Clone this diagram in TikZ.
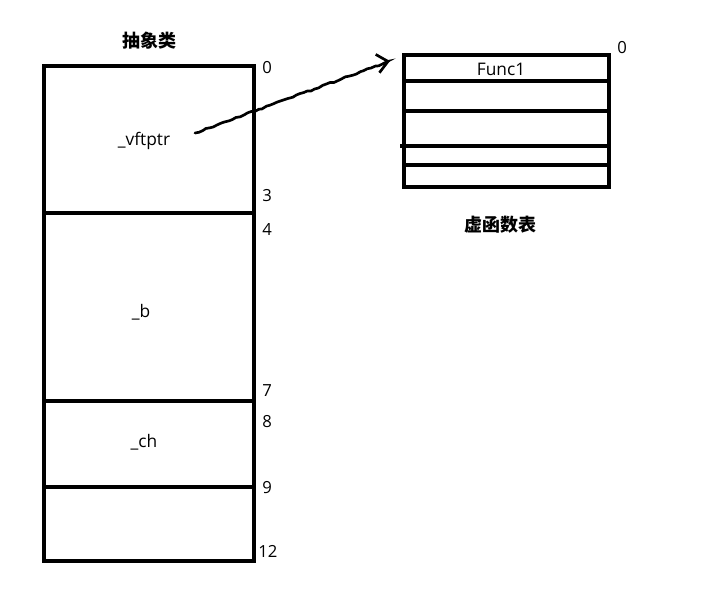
\documentclass[tikz,border=0pt]{standalone}
\usepackage{fontspec}
\setmainfont{Open Sans}
\newfontfamily\cjk{Noto Sans CJK SC}
\usetikzlibrary{arrows.meta,decorations.pathmorphing}
\tikzset{
  marco/.style={line width=3pt},
  numero/.style={anchor=west, inner sep=0pt, font=\fontsize{12.5}{14}\selectfont},
  rotulo/.style={inner sep=0pt, font=\fontsize{13}{15}\selectfont},
  titulo/.style={inner sep=0pt, font=\cjk\bfseries\fontsize{13.5}{16}\selectfont},
  puntero/.style={line width=2pt, line cap=round,
    decorate, decoration={random steps, segment length=3pt, amplitude=0.6pt},
    -{Straight Barb[length=8pt, width=14pt, line width=2pt]}},
}

\begin{document}
\begin{tikzpicture}[x=0.75pt, y=-0.75pt]
  \useasboundingbox (0,0) rectangle (708,606);
  % objeto de la clase abstracta
  \draw[marco] (44,66) rectangle (254,561);
  \draw[marco] (44,213) -- (254,213);
  \draw[marco] (44,401) -- (254,401);
  \draw[marco] (44,487) -- (254,487);
  \node[titulo] (abstracta) at (149,41) {抽象类};
  \node[rotulo] (vptr) at (144,141) {\_vftptr};
  \node[rotulo] (mb) at (141,312) {\_b};
  \node[rotulo] (mch) at (144,442) {\_ch};
  \node[numero] (n0) at (262,68) {0};
  \node[numero] (n3) at (262,196) {3};
  \node[numero] (n4) at (262,230) {4};
  \node[numero] (n7) at (262,391) {7};
  \node[numero] (n8) at (262,422) {8};
  \node[numero] (n9) at (262,488) {9};
  \node[numero] (n12) at (258,551) {12};
  % tabla de funciones virtuales
  \draw[marco] (404,55) rectangle (609,187);
  \draw[marco] (404,81) -- (609,81);
  \draw[marco] (404,111) -- (609,111);
  \draw[marco] (400,146) -- (609,146);
  \draw[marco] (404,165) -- (609,165);
  \node[rotulo] (f1) at (501,69) {Func1};
  \node[numero] (t0) at (617,48) {0};
  \node[titulo] (tabla) at (500,225) {虚函数表};
  % puntero
  \coordinate (origen) at (195,133);
  \coordinate (destino) at (390,61);
  \draw[puntero] (origen) -- (destino);
\end{tikzpicture}
\end{document}
